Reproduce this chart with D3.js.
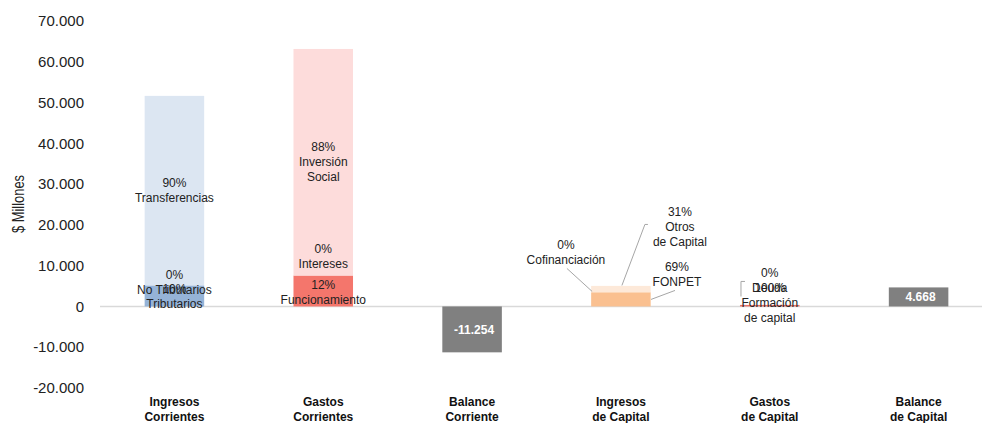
<!DOCTYPE html>
<html><head><meta charset="utf-8">
<script src="https://cdn.jsdelivr.net/npm/d3@7"></script>
<style>html,body{margin:0;padding:0;background:#fff;}svg{display:block;font-family:"Liberation Sans",Arial,sans-serif;}</style>
</head><body><svg id="c" width="982" height="423"></svg>
<script>
// ---- data ----
const categories = ["Ingresos Corrientes","Gastos Corrientes","Balance Corriente","Ingresos de Capital","Gastos de Capital","Balance de Capital"];
const categoryLines = [["Ingresos","Corrientes"],["Gastos","Corrientes"],["Balance","Corriente"],["Ingresos","de Capital"],["Gastos","de Capital"],["Balance","de Capital"]];
const yTicks = [-20000,-10000,0,10000,20000,30000,40000,50000,60000,70000];

const icNames = ["Tributarios","No Tributarios","Transferencias"];
const icValues = [5160, 0, 46480];
const icPct = ["10%","0%","90%"];

const gcNames = ["Funcionamiento","Intereses","Inversión Social"];
const gcValues = [7580, 0, 55560];
const gcPct = ["12%","0%","88%"];

const kiNames = ["FONPET","Otros de Capital","Cofinanciación"];
const kiValues = [3480, 1560, 0];
const kiPct = ["69%","31%","0%"];

const kgNames = ["Formación de capital","Deuda"];
const kgValues = [372, 0];
const kgPct = ["100%","0%"];

const balanceCorriente = -11254;
const balanceCapital = 4668;

// ---- styling / layout ----
const colors = {
  "Tributarios":"#95b3d7","No Tributarios":"#c5d6ec","Transferencias":"#dce6f2",
  "Funcionamiento":"#f4766c","Intereses":"#f9b2ad","Inversión Social":"#fddcdb",
  "FONPET":"#fac090","Otros de Capital":"#fde9d9","Cofinanciación":"#fcd5b4",
  "Formación de capital":"#e8736c","Deuda":"#f4b0ab"
};
const svg = d3.select("#c");
const x = d3.scaleBand().domain(categories).range([100,993]).paddingInner(0.6).paddingOuter(0.3);
const y = d3.scaleLinear().domain([-20000,70000]).range([388,21]);
const loc = d3.formatLocale({decimal:",",thousands:".",grouping:[3],currency:["$",""],minus:"-"});
const fmt = loc.format(",.0f");

// y tick labels
svg.append("g").selectAll("text").data(yTicks).join("text")
  .attr("x",84).attr("y",d=>y(d)).attr("dy","0.35em").attr("text-anchor","end")
  .attr("font-size",15).attr("fill","#222").text(d=>fmt(d));
svg.append("text").attr("transform","translate(24,204) rotate(-90)").attr("text-anchor","middle")
  .attr("font-size",17).attr("fill","#222").attr("textLength",58).attr("lengthAdjust","spacingAndGlyphs").text("$ Millones");

// zero line
svg.append("line").attr("x1",100).attr("x2",992).attr("y1",y(0)).attr("y2",y(0))
  .attr("stroke","#d9d9d9").attr("stroke-width",1.5);

function stack(cat, names, values){
  let acc=0;
  return names.map((n,i)=>{const s={cat,name:n,y0:acc,y1:acc+values[i]};acc+=values[i];return s;});
}
const segs = [].concat(stack(categories[0],icNames,icValues),stack(categories[1],gcNames,gcValues),
  stack(categories[3],kiNames,kiValues),stack(categories[4],kgNames,kgValues));
svg.append("g").selectAll("rect").data(segs).join("rect")
  .attr("x",d=>x(d.cat)).attr("width",x.bandwidth())
  .attr("y",d=>y(Math.max(d.y0,d.y1))).attr("height",d=>Math.abs(y(d.y0)-y(d.y1)))
  .attr("fill",d=>colors[d.name]);

// balance bars
const bal = [{cat:categories[2],v:balanceCorriente},{cat:categories[5],v:balanceCapital}];
svg.append("g").selectAll("rect").data(bal).join("rect")
  .attr("x",d=>x(d.cat)).attr("width",x.bandwidth())
  .attr("y",d=>y(Math.max(0,d.v))).attr("height",d=>Math.abs(y(0)-y(d.v)))
  .attr("fill","#808080");
svg.append("g").selectAll("text").data(bal).join("text")
  .attr("x",d=>x(d.cat)+x.bandwidth()/2+2).attr("y",d=>y(d.v/2)).attr("dy","0.35em")
  .attr("text-anchor","middle").attr("font-size",12).attr("font-weight","bold").attr("fill","#fff")
  .text(d=>fmt(d.v));

// segment labels
const cx = c => x(c)+x.bandwidth()/2;
function labelsFor(cat, names, values, pcts, splitNames, offsets){
  let acc=0;
  return names.map((n,i)=>{const mid=acc+values[i]/2; acc+=values[i];
    const o=offsets[i]||{};
    return {x:cx(cat)+(o.dx||0), y:(o.ay!==undefined? o.ay : y(mid))+(o.dy||0), lines:[pcts[i]].concat(splitNames[i]), leader:o.leader};});
}
const L = [];
L.push(...labelsFor(categories[0],icNames,icValues,icPct,[["Tributarios"],["No Tributarios"],["Transferencias"]],[{dy:0},{dy:-3},{}]));
L.push(...labelsFor(categories[1],gcNames,gcValues,gcPct,[["Funcionamiento"],["Intereses"],["Inversión","Social"]],[{dy:1},{dy:-19},{}]));
const z = y(0);
L.push(...labelsFor(categories[3],kiNames,kiValues,kiPct,[["FONPET"],["Otros","de Capital"],["Cofinanciación"]],[
  {dx:56,ay:z-32,leader:[[651,z-7],[675,z-16]]},
  {dx:59,ay:z-80,leader:[[cx(categories[3])+1,z-21],[cx(categories[3])+24,z-82],[cx(categories[3])+27,z-82]]},
  {dx:-55,ay:z-54,leader:[[cx(categories[3])-54,z-38],[x(categories[3])+1,z-15]]}
]));
L.push(...labelsFor(categories[4],kgNames,kgValues,kgPct,[["Formación","de capital"],["Deuda"]],[
  {ay:z-4},{ay:z-26,leader:[[x(categories[4])+1,z-10],[x(categories[4])+1,z-25],[x(categories[4])+5,z-25]]}
]));

const lg = svg.append("g");
L.forEach(l=>{
  if(l.leader){ lg.append("path").attr("d",d3.line()(l.leader)).attr("fill","none").attr("stroke","#a6a6a6").attr("stroke-width",1); }
  const n=l.lines.length;
  const t=lg.append("text").attr("text-anchor","middle").attr("font-size",12).attr("fill","#222");
  l.lines.forEach((s,i)=>t.append("tspan").attr("x",l.x).attr("y",l.y+(i-(n-1)/2)*15).attr("dy","0.35em").text(s));
});

// category labels
const cg = svg.append("g");
categories.forEach((c,i)=>{
  const t=cg.append("text").attr("text-anchor","middle").attr("font-size",12).attr("font-weight","bold").attr("fill","#111");
  categoryLines[i].forEach((s,j)=>t.append("tspan").attr("x",cx(c)).attr("y",402+j*15).attr("dy","0.35em").text(s));
});
</script></body></html>
